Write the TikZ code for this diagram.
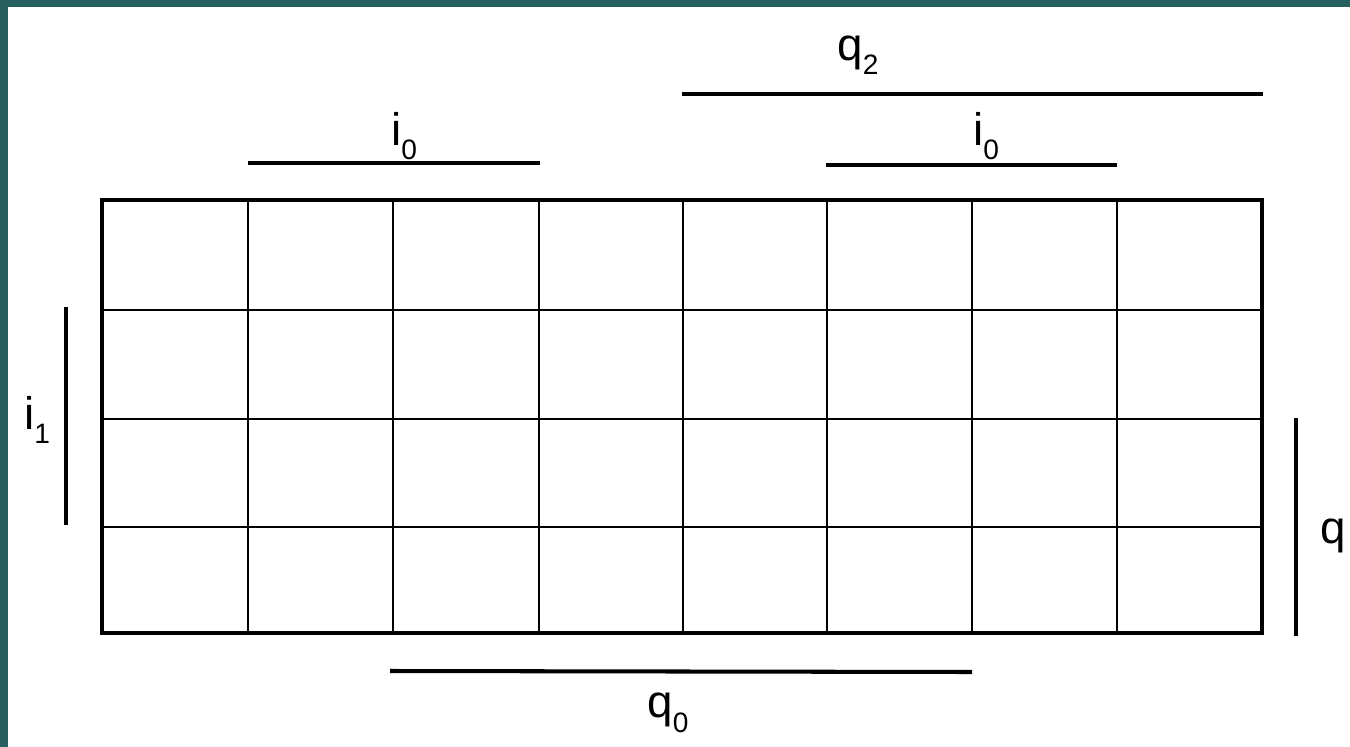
\documentclass[tikz,border=0pt]{standalone}
\usepackage{fontspec}
\setmainfont{Liberation Sans}
\usetikzlibrary{positioning}
\definecolor{kmapTeal}{RGB}{40, 96, 96}
\newcommand{\lowsub}[1]{\raisebox{-0.6ex}{\fontsize{16}{16}\selectfont #1}}

\begin{document}
\begin{tikzpicture}[
  x=0.02cm, y=-0.02cm,
  cellline/.style={line width=1.1pt},
  frame/.style={line width=2pt},
  bar/.style={line width=2.3pt},
  lbl/.style={font=\fontsize{26}{26}\selectfont, inner sep=0pt}
]
  % background
  \fill[kmapTeal] (0,0) rectangle (1350,747);
  \fill[white] (8,7) rectangle (1350,747);
  \useasboundingbox (0,0) rectangle (1350,747);

  % grid
  \foreach \x in {248,393,539,683,827,972,1117}
    \draw[cellline] (\x,200) -- (\x,633);
  \foreach \y in {310,419,527}
    \draw[cellline] (102,\y) -- (1262,\y);
  \draw[frame] (102,200) rectangle (1262,633);

  % variable bars
  \coordinate (q2a) at (682,94);   \coordinate (q2b) at (1263,94);
  \coordinate (i0a) at (248,163);  \coordinate (i0b) at (540,163);
  \coordinate (i0c) at (826,165);  \coordinate (i0d) at (1117,165);
  \coordinate (i1a) at (66,307);   \coordinate (i1b) at (66,525);
  \coordinate (q1a) at (1296,418); \coordinate (q1b) at (1296,636);
  \coordinate (q0a) at (390,671);  \coordinate (q0b) at (972,672);
  \draw[bar] (q2a) -- (q2b);
  \draw[bar] (i0a) -- (i0b);
  \draw[bar] (i0c) -- (i0d);
  \draw[bar] (i1a) -- (i1b);
  \draw[bar] (q1a) -- (q1b);
  \draw[bar] (q0a) -- (q0b);

  % labels
  \node[lbl] (q2) at (858,55) {q\lowsub{2}};
  \node[lbl] (i0l) at (404,136) {i\lowsub{0}};
  \node[lbl] (i0r) at (986,136) {i\lowsub{0}};
  \node[lbl] (i1) at (37,420) {i\lowsub{1}};
  \node[lbl] (q1) at (1333,536) {q};
  \node[lbl] (q0) at (668,713) {q\lowsub{0}};
\end{tikzpicture}
\end{document}
